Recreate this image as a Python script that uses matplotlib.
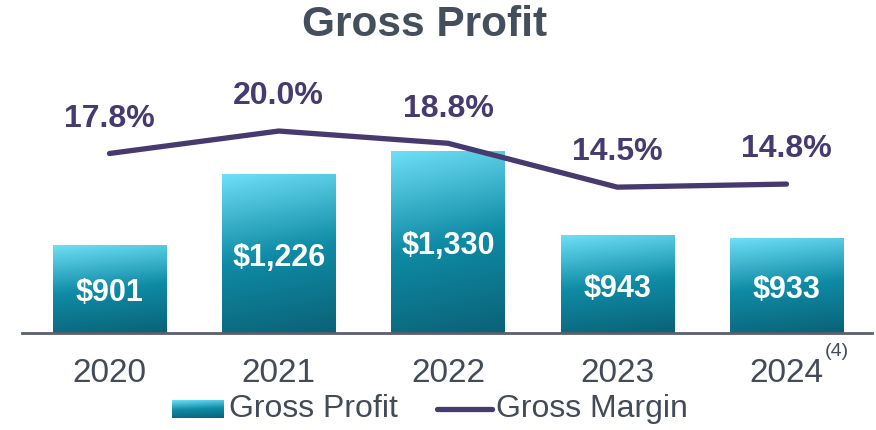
import matplotlib.pyplot as plt
import numpy as np
from matplotlib.colors import LinearSegmentedColormap

# data
years = ["2020", "2021", "2022", "2023", "2024"]
gross_profit = [901, 1226, 1330, 943, 933]
gross_margin = [17.8, 20.0, 18.8, 14.5, 14.8]
profit_labels = ["$901", "$1,226", "$1,330", "$943", "$933"]
margin_labels = ["17.8%", "20.0%", "18.8%", "14.5%", "14.8%"]

plt.rcParams['font.family'] = ['Liberation Sans', 'DejaVu Sans']

purple = "#463A6E"
gray_text = "#434B59"
grad = LinearSegmentedColormap.from_list(
    "bar", [(0.0, "#6EDFF7"), (0.5, "#0F8BA5"), (1.0, "#0A6277")])

def gradient_img(n=200):
    # mostly vertical with a little diagonal tilt (top-left lightest)
    yy, xx = np.mgrid[0:1:n * 1j, 0:1:n * 1j]
    return np.clip(0.88 * yy + 0.12 * xx, 0, 1)

fig = plt.figure(figsize=(8.76, 4.30), dpi=100)
W, H = 876, 430
ax = fig.add_axes([22 / W, 97 / H, 850 / W, 273 / H])
ax2 = ax.twinx()

x = np.arange(len(years))
bw = 0.67
ymin = 500

img = gradient_img()
for xi, v, lab in zip(x, gross_profit, profit_labels):
    ax.bar(xi, v - ymin, bottom=ymin, width=bw, color="none", zorder=2)
    ax.imshow(img, cmap=grad, aspect="auto", vmin=0, vmax=1,
              extent=[xi - bw / 2, xi + bw / 2, ymin, v], zorder=2, interpolation="bilinear")
    ax.annotate(lab, (xi, (ymin + v) / 2), xytext=(0, -3), textcoords="offset points",
                ha="center", va="center", color="white",
                fontsize=22, fontweight="bold", zorder=4)
ax.set_xlim(-0.517, 4.505)
ax.set_ylim(ymin, ymin + 273 / 0.219)

ax2.set_ylim(0.2, 0.2 + 273 / 10.2)
ax2.plot(x, gross_margin, color=purple, lw=3.8, solid_capstyle="round", zorder=5)
for xi, m, lab in zip(x, gross_margin, margin_labels):
    ax2.annotate(lab, (xi, m), xytext=(0, 25), textcoords="offset points",
                 ha="center", va="center", color=purple, fontsize=23, fontweight="bold")

for a in (ax, ax2):
    for s in ("top", "right", "left"):
        a.spines[s].set_visible(False)
    a.set_yticks([])
ax2.spines["bottom"].set_visible(False)
ax.spines["bottom"].set_color("#5A5F6C")
ax.spines["bottom"].set_linewidth(2)
ax.set_xticks(x)
ax.set_xticklabels(years, fontsize=24, color=gray_text)
ax.tick_params(axis="x", length=0, pad=18)
ax.patch.set_visible(False)

fig.text(825 / W, 1 - 343 / H, "(4)", fontsize=14, color=gray_text, va="top", ha="left")

fig.text(425 / W, 1 - 25 / H, "Gross Profit", ha="center", va="center",
         fontsize=30.5, fontweight="bold", color="#454E5C")

# legend drawn by hand so the patch keeps the gradient
lax = fig.add_axes([172 / W, 1 - 418 / H, 52 / W, 18 / H])
lax.imshow(gradient_img(), cmap=grad, aspect="auto", vmin=0, vmax=1, interpolation="bilinear")
lax.axis("off")
fig.text(229 / W, 1 - 409 / H, "Gross Profit", ha="left", va="center",
         fontsize=23, color=gray_text)
fig.add_artist(plt.Line2D([437 / W, 492 / W], [1 - 409 / H, 1 - 409 / H],
                          color=purple, lw=3.8, solid_capstyle="round"))
fig.text(496 / W, 1 - 409 / H, "Gross Margin", ha="left", va="center",
         fontsize=23, color=gray_text)

fig.savefig("out.png", dpi=100)
